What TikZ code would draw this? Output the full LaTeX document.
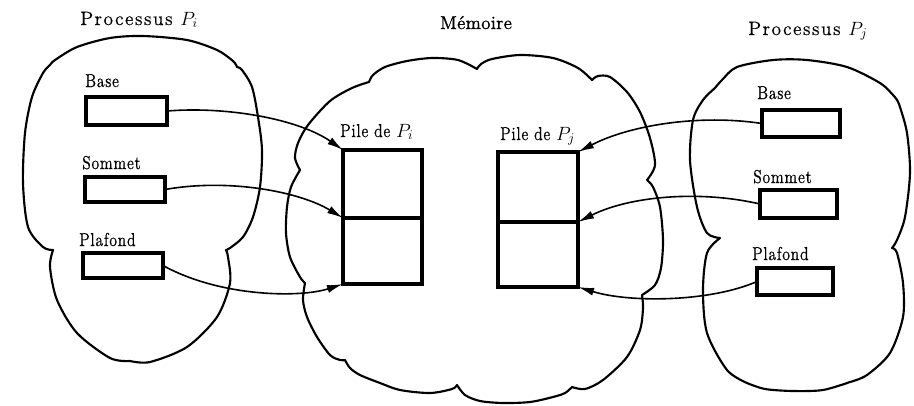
\documentclass[tikz,border=0pt]{standalone}
\usepackage{fontspec}
\usetikzlibrary{arrows.meta,fit}
\newfontfamily\titlefont{lmroman12-regular}[Extension=.otf,LetterSpace=8,FakeBold=0.6]
\newfontfamily\labelfont{lmroman12-regular}[Extension=.otf,LetterSpace=4,FakeStretch=0.84,FakeBold=0.8]
\newfontfamily\memfont{lmroman12-regular}[Extension=.otf,LetterSpace=2,FakeBold=1.4]
\begin{document}
\begin{tikzpicture}[x=0.75pt,y=-0.75pt,
  blob/.style={draw, line width=1.6pt, line join=round, line cap=round},
  regbox/.style={draw, line width=2.9pt, inner sep=0pt, outer sep=0pt},
  cell/.style={draw, line width=2.6pt, inner sep=0pt, outer sep=0pt},
  conn/.style={line width=1.2pt, -{Latex[length=12pt,width=6pt]}},
  lbl/.style={font={\labelfont\fontsize{14}{16}\selectfont}, inner sep=0pt, anchor=base west},
  ttl/.style={font={\titlefont\fontsize{14.5}{16}\selectfont}, inner sep=0pt, anchor=base west},
  memlbl/.style={font={\memfont\fontsize{14}{16}\selectfont}, inner sep=0pt, anchor=base}
]
\useasboundingbox (0,0) rectangle (914,405);

% ---- process P_i (left cloud)
\draw[blob]
  plot[smooth] coordinates {(50,65) (55,60) (77,47) (110,38) (143,36) (187,40) (217,50) (233,61) (237,67)}
  -- plot[smooth] coordinates {(237,67) (242,70) (252,87) (258,117) (262,150) (260,187) (253,217) (243,237) (230,248) (226,250)}
  -- plot[smooth] coordinates {(226,250) (228,257) (230,283) (217,317) (187,347) (150,362) (130,361)}
  -- plot[smooth] coordinates {(130,361) (110,358) (77,333) (57,300) (50,267) (53,250)}
  -- plot[smooth] coordinates {(53,250) (43,247) (28,227) (23,183) (25,133) (32,97) (43,73) (50,65)};

% ---- memory (middle cloud)
\draw[blob]
  plot[smooth] coordinates {(300,170) (295,158) (298,143) (308,125) (330,101) (352,88) (369,82)}
  -- plot[smooth] coordinates {(369,82) (373,75) (385,67) (407,61) (432,58) (458,60) (477,69)}
  -- plot[smooth] coordinates {(477,69) (481,64) (492,59) (520,55) (553,58) (578,68) (592,80)}
  -- plot[smooth] coordinates {(592,80) (598,76) (610,77) (627,92) (640,112) (650,138) (655,165) (647,180)}
  -- plot[smooth] coordinates {(647,180) (653,187) (660,207) (663,240) (661,268) (655,285) (642,295)}
  -- plot[smooth] coordinates {(642,295) (643,308) (640,330) (627,357) (603,380) (585,389) (572,387)}
  -- plot[smooth] coordinates {(572,387) (565,393) (553,397) (530,402) (503,403) (480,401) (465,395) (457,385)}
  -- plot[smooth] coordinates {(457,385) (452,389) (430,393) (400,390) (380,383) (360,375) (350,368) (345,360)}
  -- plot[smooth] coordinates {(345,360) (340,360) (330,355) (317,337) (307,317) (303,300) (305,283)}
  -- plot[smooth] coordinates {(305,283) (300,277) (290,257) (286,233) (287,207) (291,187) (300,170)};

% ---- process P_j (right cloud)
\draw[blob]
  plot[smooth] coordinates {(715,88) (722,80) (737,67) (773,60) (807,60) (847,67) (880,83) (893,95) (897,100)}
  -- plot[smooth] coordinates {(897,100) (900,107) (907,133) (910,173) (905,217) (897,240) (892,248)}
  -- plot[smooth] coordinates {(892,248) (897,253) (903,283) (903,317) (890,353) (867,375) (850,382)}
  -- plot[smooth] coordinates {(850,382) (823,390) (793,391) (765,389) (747,383)}
  -- plot[smooth] coordinates {(747,383) (727,370) (707,333) (703,290) (707,253) (720,238)}
  -- plot[smooth] coordinates {(720,238) (707,233) (697,207) (690,160) (693,120) (703,100) (715,88)};

% ---- titles
\node[ttl] (ti) at (80,25) {Processus $P_i$};
\node[ttl] (tj) at (748,35) {Processus $P_j$};
\node[memlbl] (tm) at (476,29) {Mémoire};

% ---- registers of P_i
\node[lbl] (li-base) at (85,87) {Base};
\node[lbl] (li-som) at (82,169) {Sommet};
\node[lbl] (li-pla) at (79,246) {Plafond};
\node[regbox, fit={(86,97) (167,125)}] (ri-base) {};
\node[regbox, fit={(85,177) (165,202)}] (ri-som) {};
\node[regbox, fit={(83,253) (163,278)}] (ri-pla) {};

% ---- registers of P_j
\node[lbl] (lj-base) at (757,99) {Base};
\node[lbl] (lj-som) at (753,183) {Sommet};
\node[lbl] (lj-pla) at (752,260) {Plafond};
\node[regbox, fit={(762,110) (840,137)}] (rj-base) {};
\node[regbox, fit={(760,190) (837,218)}] (rj-som) {};
\node[regbox, fit={(757,268) (833,295)}] (rj-pla) {};

% ---- stacks in memory
\node[lbl] (si-lbl) at (340,137) {Pile de $P_i$};
\node[lbl] (sj-lbl) at (500,140) {Pile de $P_j$};
\node[cell, fit={(343,150) (422,218)}] (si-top) {};
\node[cell, fit={(343,218) (422,284)}] (si-bot) {};
\node[cell, fit={(498,152) (578,222)}] (sj-top) {};
\node[cell, fit={(498,222) (578,287)}] (sj-bot) {};

% ---- pointers
\draw[conn] (ri-base.east) .. controls (230,106) and (300,120) .. (si-top.north west);
\draw[conn] (ri-som.east) .. controls (230,178) and (300,192) .. (si-top.south west);
\draw[conn] (ri-pla.east) .. controls (220,297) and (300,298) .. (si-bot.south west);
\draw[conn] (rj-base.west) .. controls (700,114) and (630,125) .. (sj-top.north east);
\draw[conn] (rj-som.west) .. controls (700,190) and (630,196) .. (sj-top.south east);
\draw[conn] (rj-pla.west) .. controls (710,302) and (630,303) .. (sj-bot.south east);
\end{tikzpicture}
\end{document}
